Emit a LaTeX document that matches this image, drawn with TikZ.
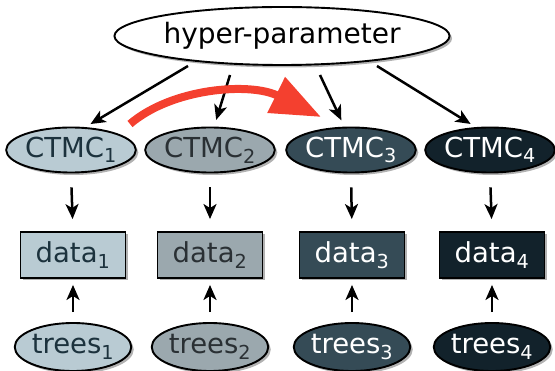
\documentclass[tikz,border=0pt]{standalone}
\usepackage{fontspec}
\setmainfont{DejaVu Sans}
\usetikzlibrary{shapes.geometric,arrows.meta,shadows}

\definecolor{tone1}{HTML}{B9CBD3}
\definecolor{tone2}{HTML}{9BA8AE}
\definecolor{tone3}{HTML}{354B56}
\definecolor{tone4}{HTML}{12222B}
\definecolor{inkone}{HTML}{1C323D}
\definecolor{inktwo}{HTML}{2A3034}
\definecolor{flowred}{HTML}{F4402F}

\tikzset{
  base/.style={draw=black, line width=1.9pt, inner sep=0pt,
    font=\fontsize{27.5}{31}\selectfont,
    drop shadow={shadow xshift=2.5pt, shadow yshift=-2.5pt, opacity=0.3, fill=black}},
  oval/.style={base, ellipse, minimum width=125pt, minimum height=45pt},
  box/.style={base, rectangle, minimum width=105pt, minimum height=46pt},
  treeoval/.style={base, ellipse, minimum width=108pt, minimum height=48pt},
  c1/.style={fill=tone1, text=inkone},
  c2/.style={fill=tone2, text=inktwo},
  c3/.style={fill=tone3, text=white},
  c4/.style={fill=tone4, text=white},
  link/.style={draw=black, line width=2.5pt, -{Stealth[length=15pt, width=13pt, inset=4pt]}},
}

\begin{document}
\begin{tikzpicture}[x=1pt, y=-1pt]
\useasboundingbox (0,0) rectangle (555,371);

% top-level hyper-parameter
\node[base, ellipse, fill=white, minimum width=310pt, minimum height=58pt,
      font=\fontsize{28}{32}\selectfont] (hyp) at (282,36) {hyper-parameter};

% per-column CTMC, data and trees
\node[oval, c1] (ctmc1) at (71,150)  {CTMC\textsubscript{1}};
\node[oval, c2] (ctmc2) at (210,150) {CTMC\textsubscript{2}};
\node[oval, c3] (ctmc3) at (351,150) {CTMC\textsubscript{3}};
\node[oval, c4] (ctmc4) at (490,150) {CTMC\textsubscript{4}};

\node[box, c1] (data1) at (73,255)  {data\textsubscript{1}};
\node[box, c2] (data2) at (210,255) {data\textsubscript{2}};
\node[box, c3] (data3) at (352,255) {data\textsubscript{3}};
\node[box, c4] (data4) at (492,255) {data\textsubscript{4}};

\node[treeoval, c1] (trees1) at (73,347)  {trees\textsubscript{1}};
\node[treeoval, c2] (trees2) at (210,347) {trees\textsubscript{2}};
\node[treeoval, c3] (trees3) at (352,347) {trees\textsubscript{3}};
\node[treeoval, c4] (trees4) at (492,347) {trees\textsubscript{4}};

% hyper-parameter to each CTMC
\coordinate (h1) at (188,66);
\coordinate (h2) at (230,75);
\coordinate (h3) at (320,75);
\coordinate (h4) at (377,66);
\draw[link, shorten >=6pt] (h1) -- (ctmc1.58);
\draw[link, shorten >=7pt] (h2) -- (ctmc2.80);
\draw[link, shorten >=7pt] (h3) -- (ctmc3.106);
\draw[link, shorten >=6pt] (h4) -- (ctmc4.122);

% CTMC to data, trees to data
\foreach \i in {1,2,3,4}{
  \draw[link, shorten <=14pt, shorten >=12pt] (ctmc\i.south) -- (data\i.north);
  \draw[link, shorten <=10pt, shorten >=6pt] (trees\i.north) -- (data\i.south);
}

% transfer from the first CTMC to the third
\draw[flowred, line width=8pt, -{Triangle[length=50pt, width=38pt]}]
  (130,124) .. controls (172,88) and (250,82) .. (321,117);
\end{tikzpicture}
\end{document}
